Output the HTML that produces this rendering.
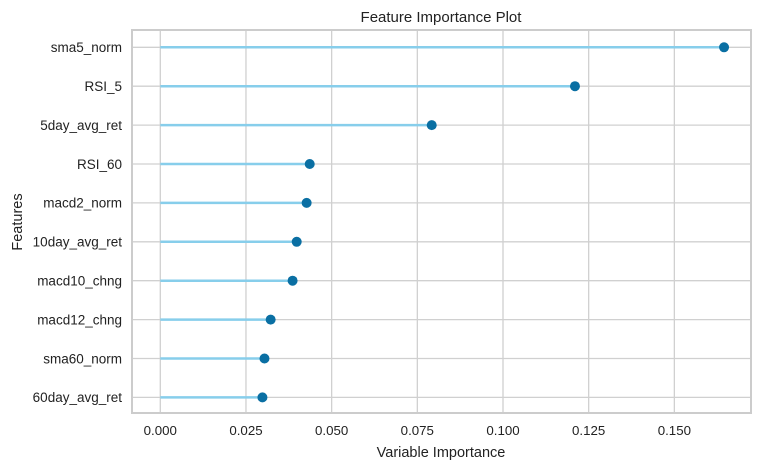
<!DOCTYPE html>
<html><head><meta charset="utf-8"><style>
body{margin:0;background:#fff;font-family:"Liberation Sans",sans-serif}
</style></head><body>
<svg id="chart" width="761" height="468" xmlns="http://www.w3.org/2000/svg">
<text x="441" y="22" text-anchor="middle" font-size="15" fill="#222">Feature Importance Plot</text>
<g id="grid"></g><g id="marks"></g><g id="labels"></g>
<rect x="132" y="30" width="619" height="383" fill="none" stroke="#cccccc" stroke-width="2"/>
<text x="441" y="457" text-anchor="middle" font-size="14.5" fill="#222">Variable Importance</text>
<text transform="translate(22,222) rotate(-90)" text-anchor="middle" font-size="14.5" fill="#222">Features</text>
</svg>
<script>
const features=["sma5_norm","RSI_5","5day_avg_ret","RSI_60","macd2_norm","10day_avg_ret","macd10_chng","macd12_chng","sma60_norm","60day_avg_ret"];
const importances=[0.1645,0.1210,0.0792,0.0436,0.0427,0.0398,0.0386,0.0322,0.0304,0.0298];
const xTicks=[0,0.025,0.05,0.075,0.1,0.125,0.15];
const xTickLabels=["0.000","0.025","0.050","0.075","0.100","0.125","0.150"];
const NS="http://www.w3.org/2000/svg";
const x=v=>160.3+v*3427;
const y=i=>47.3+i*38.9;
function mk(t,a,p){const e=document.createElementNS(NS,t);for(const k in a)e.setAttribute(k,a[k]);p.appendChild(e);return e;}
const g=document.getElementById('grid'),m=document.getElementById('marks'),l=document.getElementById('labels');
xTicks.forEach((t,i)=>{
 const ln=mk('line',{x1:x(t),x2:x(t),y1:30,y2:413,stroke:'#d0d0d0','stroke-width':1.3},g);
 
 
 const tx=mk('text',{x:x(t),y:435,'text-anchor':'middle','font-size':13.3,fill:'#222'},l);
 tx.textContent=xTickLabels[i];
 
 
});
features.forEach((f,i)=>{
 const gl=mk('line',{x1:132,x2:751,y1:y(i),y2:y(i),stroke:'#d0d0d0','stroke-width':1.3},g);
 
 
 const st=mk('line',{x1:x(0),x2:x(importances[i]),y1:y(i),y2:y(i),stroke:'#87ceeb','stroke-width':2.5},m);
 
 
 const c=mk('circle',{cx:x(importances[i]),cy:y(i),r:5,fill:'#0a6fa3'},m);
 
 
 const tx=mk('text',{x:122,y:y(i)+4.8,'text-anchor':'end','font-size':13.5,fill:'#222'},l);
 tx.textContent=f;
 
 
});
</script>
</body></html>
